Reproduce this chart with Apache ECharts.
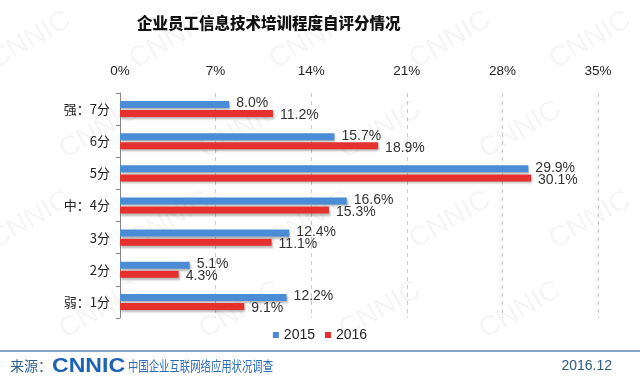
<!DOCTYPE html>
<html>
<head>
<meta charset="utf-8">
<script src="https://cdn.jsdelivr.net/npm/echarts@6/dist/echarts.min.js"></script>
<style>html,body{margin:0;padding:0;background:#fff}#c{width:640px;height:385px}</style>
</head>
<body>
<div id="c"></div>
<script>
var categories = ['强：7分', '6分', '5分', '中：4分', '3分', '2分', '弱：1分'];
var values2015 = [8.0, 15.7, 29.9, 16.6, 12.4, 5.1, 12.2];
var values2016 = [11.2, 18.9, 30.1, 15.3, 11.1, 4.3, 9.1];
var seriesNames = ['2015', '2016'];
var xTicks = {min: 0, max: 35, interval: 7};

var chart = echarts.init(document.getElementById('c'));
var cjk = '"Noto Sans CJK SC", sans-serif';
var lat = '"Liberation Sans", Arial, sans-serif';

var wm = [];
var wmPos = [[30,40],[170,40],[310,40],[450,40],[590,40],[100,130],[240,130],[380,130],[520,130],[30,220],[170,220],[310,220],[450,220],[590,220],[100,310],[240,310],[380,310],[520,310]];
wmPos.forEach(function(p){
  wm.push({type:'text', x:p[0], y:p[1], rotation:Math.PI/6, z:-10, silent:true,
    style:{text:'CNNIC', fill:'rgba(0,0,0,0.045)', font:'28px '+lat, align:'center', verticalAlign:'middle'}});
});

function labelCfg(off){
  return {show:true, position:'right', distance:7, offset:off, color:'#333', fontSize:14, fontFamily:lat,
    formatter:function(p){return p.value.toFixed(1)+'%';}};
}

chart.setOption({
  animation:false,
  backgroundColor:'#fff',
  title:{text:'企业员工信息技术培训程度自评分情况', left:132, top:10,
    textStyle:{fontSize:15.5, fontWeight:900, color:'#111', fontFamily:cjk}},
  grid:{left:120, right:42, top:93, bottom:67, containLabel:false},
  legend:{data:seriesNames, bottom:38, left:'center', itemWidth:6, itemHeight:6, itemGap:10,
    icon:'rect', textStyle:{fontSize:14, color:'#222', fontFamily:lat}},
  xAxis:{type:'value', position:'top', min:xTicks.min, max:xTicks.max, interval:xTicks.interval,
    axisLine:{show:false}, axisTick:{show:false},
    axisLabel:{formatter:'{value}%', color:'#222', fontSize:13.5, fontFamily:lat, margin:15},
    splitLine:{show:true, lineStyle:{type:[4,4], color:'#c8c8c8'}}},
  yAxis:{type:'category', data:categories, inverse:true,
    axisLine:{show:true, lineStyle:{color:'#888'}},
    axisTick:{show:true, length:4, lineStyle:{color:'#888'}},
    axisLabel:{color:'#222', fontSize:13, fontFamily:cjk, margin:10}},
  series:[
    {name:seriesNames[0], type:'bar', data:values2015, barWidth:7, barGap:'30%',
      itemStyle:{color:'#4a8cd5', shadowColor:'rgba(0,0,0,0.28)', shadowBlur:2, shadowOffsetX:1, shadowOffsetY:2},
      label:labelCfg([0,-1])},
    {name:seriesNames[1], type:'bar', data:values2016, barWidth:7,
      itemStyle:{color:'#e5302e', shadowColor:'rgba(0,0,0,0.28)', shadowBlur:2, shadowOffsetX:1, shadowOffsetY:2},
      label:labelCfg([0,2])}
  ],
  graphic:wm.concat([
    {type:'line', shape:{x1:0, y1:351, x2:640, y2:351}, style:{stroke:'#86a9c9', lineWidth:2}},
    {type:'text', x:10, y:366, style:{text:'来源：', fill:'#2c5e8c', font:'14px '+cjk, verticalAlign:'middle'}},
    {type:'text', x:52, y:366, scaleX:1.1, style:{text:'CNNIC', fill:'#1f63b5', font:'900 21px '+lat, verticalAlign:'middle'}},
    {type:'text', x:128, y:366, scaleX:0.74, style:{text:'中国企业互联网络应用状况调查', fill:'#2b6db8', font:'14px '+cjk, verticalAlign:'middle'}},
    {type:'text', x:612, y:366, style:{text:'2016.12', fill:'#2e5a80', font:'14px '+lat, align:'right', verticalAlign:'middle'}}
  ])
});
</script>
</body>
</html>
